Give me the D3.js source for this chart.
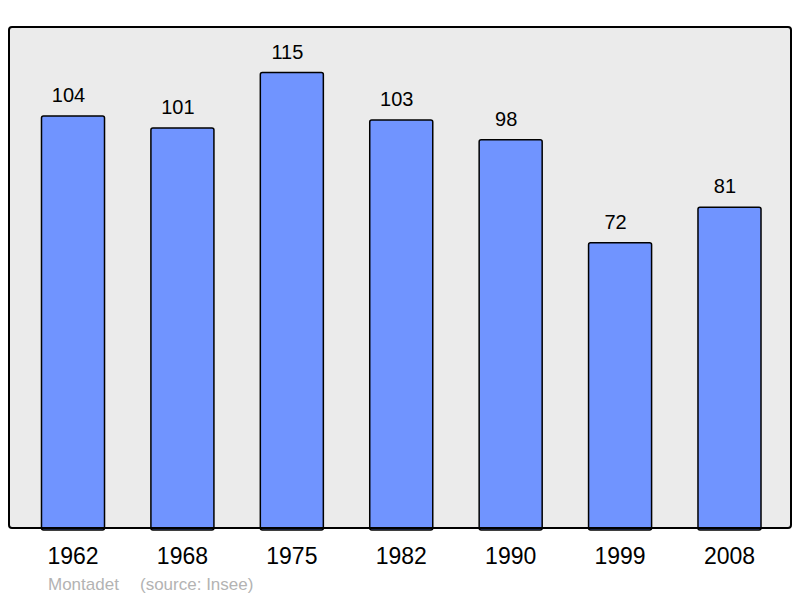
<!DOCTYPE html>
<html>
<head>
<meta charset="utf-8">
<script src="https://cdn.jsdelivr.net/npm/d3@7"></script>
<style>
  body { margin: 0; background: #fff; }
  text { font-family: "Liberation Sans", Arial, sans-serif; }
</style>
</head>
<body>
<div id="chart"></div>
<script>
var years = ["1962", "1968", "1975", "1982", "1990", "1999", "2008"];
var population = [104, 101, 115, 103, 98, 72, 81];
var commune = "Montadet";
var source = "(source: Insee)";

var width = 800, height = 598;
var panel = {left: 9, top: 27, right: 791, bottom: 528};

var svg = d3.select("#chart").append("svg")
    .attr("width", width)
    .attr("height", height);

// scales
var x = d3.scaleBand()
    .domain(years)
    .range([18.3, 784.2])
    .paddingInner(0.424)
    .paddingOuter(0.212);

var y = d3.scaleLinear()
    .domain([0, d3.max(population) * 1.1])
    .range([panel.bottom, panel.top]);

// background panel
svg.append("rect")
    .attr("x", panel.left)
    .attr("y", panel.top)
    .attr("width", panel.right - panel.left)
    .attr("height", panel.bottom - panel.top)
    .attr("rx", 3)
    .attr("fill", "#ebebeb");

// bars
svg.selectAll(".bar")
    .data(population)
    .enter()
    .append("rect")
    .attr("class", "bar")
    .attr("x", (d, i) => x(years[i]))
    .attr("y", (d) => y(d))
    .attr("width", x.bandwidth())
    .attr("height", (d) => y(0) - y(d) + 2)
    .attr("rx", 2)
    .attr("fill", "#7094ff")
    .attr("stroke", "#000")
    .attr("stroke-width", 1.5);

// panel border on top
svg.append("rect")
    .attr("x", panel.left)
    .attr("y", panel.top)
    .attr("width", panel.right - panel.left)
    .attr("height", panel.bottom - panel.top)
    .attr("rx", 3)
    .attr("fill", "none")
    .attr("stroke", "#000")
    .attr("stroke-width", 2);

// value labels (sit slightly left of the bar centre, as in the original)
svg.selectAll(".val")
    .data(population)
    .enter()
    .append("text")
    .attr("class", "val")
    .attr("x", (d, i) => x(years[i]) + x.bandwidth() / 2 - 4.5)
    .attr("y", (d) => y(d) - 14)
    .attr("text-anchor", "middle")
    .attr("font-size", "20px")
    .attr("fill", "#000")
    .text((d) => d);

// x axis labels
var xAxis = svg.append("g")
    .attr("transform", "translate(0," + panel.bottom + ")")
    .call(d3.axisBottom(x).tickSize(0).tickPadding(20));
xAxis.select(".domain").remove();
xAxis.selectAll("text")
    .attr("font-size", "23px")
    .attr("font-family", "Liberation Sans, Arial, sans-serif")
    .attr("fill", "#000");

// footer
svg.append("text")
    .attr("x", 48)
    .attr("y", 590)
    .attr("font-size", "17px")
    .attr("fill", "#b3b3b3")
    .text(commune);

svg.append("text")
    .attr("x", 140)
    .attr("y", 590)
    .attr("font-size", "17px")
    .attr("fill", "#b3b3b3")
    .text(source);
</script>
</body>
</html>
